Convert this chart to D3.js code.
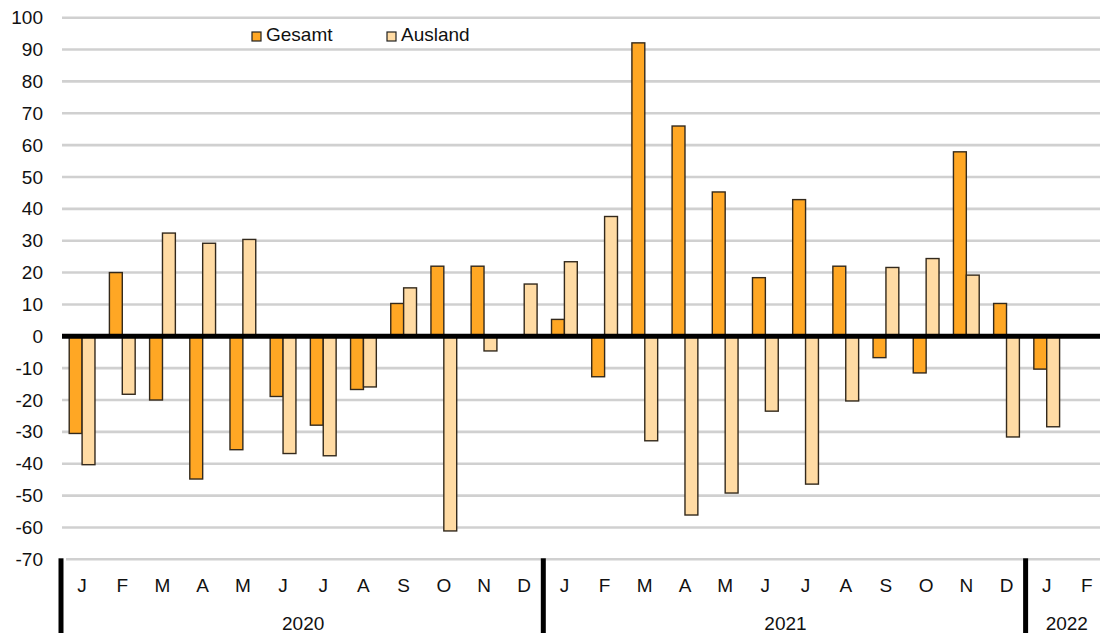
<!DOCTYPE html>
<html>
<head>
    <meta charset="utf-8">
    <title>Gesamt / Ausland</title>
    <style>
        body { margin: 0; background: #fff; }
        text {
            font-family: "Liberation Sans", Arial, sans-serif;
            font-size: 19px;
            fill: #111;
        }
    </style>
</head>
<body>
    <svg width="1100" height="633"></svg>
    <script src="https://d3js.org/d3.v7.min.js"></script>
    <script>
    // months Jan 2020 .. Feb 2022
    var months = ["J","F","M","A","M","J","J","A","S","O","N","D",
                  "J","F","M","A","M","J","J","A","S","O","N","D",
                  "J","F"];
    var years = [
        { label: "2020", start: 0, end: 12 },
        { label: "2021", start: 12, end: 24 },
        { label: "2022", start: 24, end: 26 }
    ];
    var series = ["Gesamt", "Ausland"];
    var gesamt = [-30.5, 20, -20, -44.8, -35.6, -18.9, -27.9, -16.7, 10.3, 22, 22, null,
                  5.3, -12.7, 92.1, 66, 45.3, 18.4, 42.9, 22, -6.7, -11.5, 57.9, 10.3,
                  -10.3, null];
    var ausland = [-40.3, -18.2, 32.4, 29.2, 30.4, -36.8, -37.5, -15.9, 15.2, -61.1, -4.6, 16.4,
                   23.4, 37.6, -32.8, -56.1, -49.2, -23.5, -46.4, -20.3, 21.6, 24.4, 19.2, -31.6,
                   -28.4, null];
    var yTicks = d3.range(-70, 101, 10);
    var colors = { Gesamt: "#ffa724", Ausland: "#ffdba4" };

    var svg = d3.select("svg"),
        width = +svg.attr("width"),
        height = +svg.attr("height");

    var left = 62, right = 1107;

    var x = d3.scaleBand()
        .domain(d3.range(months.length))
        .range([left, right]);

    var x1 = d3.scaleBand()
        .domain(series)
        .range([0, x.bandwidth()])
        .paddingOuter(0.56);

    var y = d3.scaleLinear()
        .domain([-70, 100])
        .range([559.3, 17.7]);

    // gridlines
    svg.append("g")
        .selectAll("line")
        .data(yTicks)
        .join("line")
          .attr("x1", function(d) { return d === -70 ? left + 4 : left; })
          .attr("x2", width)
          .attr("y1", function(d) { return y(d); })
          .attr("y2", function(d) { return y(d); })
          .attr("stroke", "#d0d0d0")
          .attr("stroke-width", 2.6);

    // y axis labels (plain hyphen for negatives, like the original)
    var yAxis = svg.append("g")
        .attr("transform", "translate(43,0)")
        .call(d3.axisLeft(y).tickValues(yTicks).tickSize(0).tickPadding(0)
            .tickFormat(function(d) { return String(d); }));
    yAxis.select(".domain").remove();
    yAxis.selectAll("text")
        .style("font-family", "'Liberation Sans', Arial, sans-serif")
        .style("font-size", "19px")
        .attr("fill", "#111");

    // bars
    var rows = months.map(function(m, i) {
        return { i: i, values: [
            { key: "Gesamt", v: gesamt[i] },
            { key: "Ausland", v: ausland[i] }
        ] };
    });

    svg.append("g")
        .selectAll("g")
        .data(rows)
        .join("g")
          .attr("transform", function(d) { return "translate(" + x(d.i) + ",0)"; })
        .selectAll("rect")
        .data(function(d) { return d.values.filter(function(e) { return e.v != null; }); })
        .join("rect")
          .attr("x", function(d) { return x1(d.key); })
          .attr("width", x1.bandwidth())
          .attr("y", function(d) { return y(Math.max(0, d.v)); })
          .attr("height", function(d) { return Math.abs(y(d.v) - y(0)); })
          .attr("fill", function(d) { return colors[d.key]; })
          .attr("stroke", "#33291c")
          .attr("stroke-width", 1.4);

    // zero line
    svg.append("line")
        .attr("x1", left)
        .attr("x2", width)
        .attr("y1", y(0))
        .attr("y2", y(0))
        .attr("stroke", "#000")
        .attr("stroke-width", 5);

    // month labels
    svg.append("g")
        .selectAll("text")
        .data(months)
        .join("text")
          .attr("x", function(d, i) { return x(i) + x.bandwidth() / 2; })
          .attr("y", 592)
          .attr("text-anchor", "middle")
          .text(function(d) { return d; });

    // year separators
    svg.append("g")
        .selectAll("line")
        .data(years)
        .join("line")
          .attr("x1", function(d) { return x(d.start) - 1; })
          .attr("x2", function(d) { return x(d.start) - 1; })
          .attr("y1", y(-70) - 1)
          .attr("y2", height)
          .attr("stroke", "#000")
          .attr("stroke-width", 5);

    // year labels
    svg.append("g")
        .selectAll("text")
        .data(years)
        .join("text")
          .attr("x", function(d) { return (x(d.start) + x(d.end - 1) + x.bandwidth()) / 2; })
          .attr("y", 630)
          .attr("text-anchor", "middle")
          .text(function(d) { return d.label; });

    // legend
    var legendX = [252, 387];
    var legend = svg.append("g")
        .selectAll("g")
        .data(series)
        .join("g")
          .attr("transform", function(d, i) { return "translate(" + legendX[i] + ",32)"; });
    legend.append("rect")
        .attr("width", 9)
        .attr("height", 9)
        .attr("fill", function(d) { return colors[d]; })
        .attr("stroke", "#222")
        .attr("stroke-width", 1.2);
    legend.append("text")
        .attr("x", 14)
        .attr("y", 8.5)
        .text(function(d) { return d; });
    </script>
</body>
</html>
